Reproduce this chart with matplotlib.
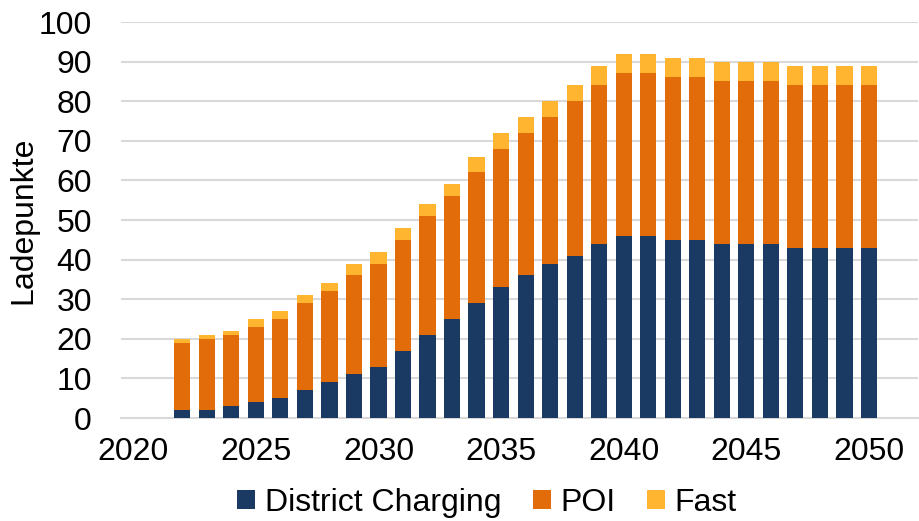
import matplotlib.pyplot as plt
import numpy as np

plt.rcParams['font.family'] = ['Liberation Sans', 'DejaVu Sans']

years = list(range(2022, 2051))
district = [2, 2, 3, 4, 5, 7, 9, 11, 13, 17, 21, 25, 29, 33, 36, 39, 41, 44,
            46, 46, 45, 45, 44, 44, 44, 43, 43, 43, 43]
poi = [17, 18, 18, 19, 20, 22, 23, 25, 26, 28, 30, 31, 33, 35, 36, 37, 39, 40,
       41, 41, 41, 41, 41, 41, 41, 41, 41, 41, 41]
fast = [1, 1, 1, 2, 2, 2, 2, 3, 3, 3, 3, 3, 4, 4, 4, 4, 4, 5,
        5, 5, 5, 5, 5, 5, 5, 5, 5, 5, 5]

x_ticks = [2020, 2025, 2030, 2035, 2040, 2045, 2050]
y_ticks = list(range(0, 101, 10))

c_district = '#1A3A63'
c_poi = '#E36C0A'
c_fast = '#FFB52F'

fs = 23
fig = plt.figure(figsize=(9.19, 5.21), dpi=100)
ax = fig.add_axes([121 / 919, 1 - 418 / 521, 797 / 919, 396 / 521])

district = np.array(district)
poi = np.array(poi)
fast = np.array(fast)
w = 0.66
ax.bar(years, district, w, color=c_district, label='District Charging', zorder=3)
ax.bar(years, poi, w, bottom=district, color=c_poi, label='POI', zorder=3)
ax.bar(years, fast, w, bottom=district + poi, color=c_fast, label='Fast', zorder=3)

ax.set_xlim(2019.5, 2052)
ax.set_ylim(0, 100)
ax.set_xticks(x_ticks)
ax.set_yticks(y_ticks)
ax.tick_params(axis='both', length=0, labelsize=fs, colors='black')
ax.tick_params(axis='y', pad=21)
ax.tick_params(axis='x', pad=14)
ax.yaxis.grid(True, color='#D9D9D9', linewidth=1.5, zorder=0)
for s in ['top', 'right', 'left']:
    ax.spines[s].set_visible(False)
ax.spines['bottom'].set_color('#D9D9D9')
ax.spines['bottom'].set_linewidth(1.5)
ax.set_ylabel('Ladepunkte', fontsize=fs)
ax.yaxis.set_label_coords(-121 / 797 + 8 / 797, 0.5)
ax.yaxis.label.set_horizontalalignment('center')
ax.yaxis.label.set_verticalalignment('top')

fig.legend(loc='center', bbox_to_anchor=(487 / 919, 1 - 503 / 521),
           bbox_transform=fig.transFigure, ncol=3, frameon=False,
           fontsize=fs, handlelength=0.55, handleheight=0.55, handletextpad=0.3,
           columnspacing=1.0, borderaxespad=0, borderpad=0)

fig.savefig('out.png', dpi=100)
